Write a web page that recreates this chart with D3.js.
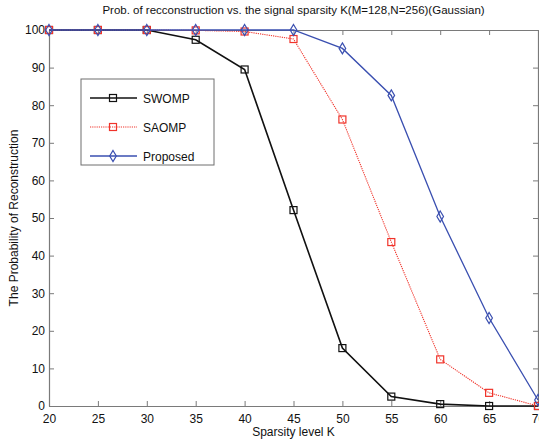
<!DOCTYPE html>
<html>
<head>
<meta charset="utf-8">
<script src="https://cdn.jsdelivr.net/npm/d3@7"></script>
<style>
  html, body { margin: 0; padding: 0; background: #fff; }
  svg { display: block; font-family: "Liberation Sans", Arial, sans-serif; }
</style>
</head>
<body>
<svg id="chart" width="539" height="441"></svg>
<script>
// Sparsity levels (x) and reconstruction probability (%) for each method
const sparsity = [20, 25, 30, 35, 40, 45, 50, 55, 60, 65, 70];
const swomp    = [100, 100, 100, 97.4, 89.5, 52.1, 15.4, 2.5, 0.5, 0, 0];
const saomp    = [100, 100, 100, 99.9, 99.6, 97.6, 76.2, 43.6, 12.4, 3.5, 0];
const proposed = [100, 100, 100, 100, 100, 100, 95.1, 82.6, 50.4, 23.4, 1.6];
const xTicks = [20, 25, 30, 35, 40, 45, 50, 55, 60, 65, 70];
const yTicks = [0, 10, 20, 30, 40, 50, 60, 70, 80, 90, 100];

const series = [
  { name: "SWOMP",    values: swomp,    color: "#111111", width: 1.6, dash: null,  marker: "square" },
  { name: "SAOMP",    values: saomp,    color: "#f0332a", width: 1.1, dash: "1.2,1", marker: "square" },
  { name: "Proposed", values: proposed, color: "#3a4fb0", width: 1.3, dash: null,  marker: "diamond" }
];

const svg = d3.select("#chart");
const plotLeft = 49, plotRight = 538, plotTop = 30, plotBottom = 406;

const x = d3.scaleLinear().domain([20, 70]).range([plotLeft, plotRight]);
const y = d3.scaleLinear().domain([0, 100]).range([plotBottom, plotTop]);

const axisColor = "#7a7a7a";
const tickLen = 5;

// Title
svg.append("text")
  .attr("x", (plotLeft + plotRight) / 2).attr("y", 14)
  .attr("text-anchor", "middle")
  .attr("font-size", 11.5).attr("fill", "#111")
  .text("Prob. of recconstruction vs. the signal sparsity K(M=128,N=256)(Gaussian)");

// Axes with inward ticks (bottom/left labelled, top/right unlabelled)
const gx = svg.append("g").attr("transform", `translate(0,${plotBottom})`)
  .call(d3.axisBottom(x).tickValues(xTicks).tickSizeInner(-tickLen).tickSizeOuter(0).tickPadding(8));
const gxTop = svg.append("g").attr("transform", `translate(0,${plotTop})`)
  .call(d3.axisTop(x).tickValues(xTicks).tickSizeInner(-tickLen).tickSizeOuter(0).tickFormat(""));
const gy = svg.append("g").attr("transform", `translate(${plotLeft},0)`)
  .call(d3.axisLeft(y).tickValues(yTicks).tickSizeInner(-tickLen).tickSizeOuter(0).tickPadding(4));
const gyRight = svg.append("g").attr("transform", `translate(${plotRight},0)`)
  .call(d3.axisRight(y).tickValues(yTicks).tickSizeInner(-tickLen).tickSizeOuter(0).tickFormat(""));

[gx, gxTop, gy, gyRight].forEach(g => {
  g.select(".domain").attr("stroke", axisColor).attr("stroke-width", 1.2);
  g.selectAll(".tick line").attr("stroke", axisColor).attr("stroke-width", 1);
  g.selectAll(".tick text").attr("fill", "#111").attr("font-size", 12)
    .attr("font-family", "'Liberation Sans', Arial, sans-serif");
});

// Axis labels
svg.append("text")
  .attr("x", (plotLeft + plotRight) / 2).attr("y", 436)
  .attr("text-anchor", "middle").attr("font-size", 12).attr("fill", "#111")
  .text("Sparsity level K");
svg.append("text")
  .attr("transform", `translate(18,${(plotTop + plotBottom) / 2}) rotate(-90)`)
  .attr("text-anchor", "middle").attr("font-size", 12).attr("fill", "#111")
  .text("The Probability of Reconstruction");

const line = d3.line().x((d, i) => x(sparsity[i])).y(d => y(d));

function drawMarker(g, kind, cx, cy, color) {
  if (kind === "square") {
    g.append("rect").attr("x", cx - 3.5).attr("y", cy - 3.5).attr("width", 7).attr("height", 7)
      .attr("fill", "none").attr("stroke", color).attr("stroke-width", 1.2);
  } else {
    g.append("path")
      .attr("d", `M${cx},${cy - 5.5}L${cx + 3.3},${cy}L${cx},${cy + 5.5}L${cx - 3.3},${cy}Z`)
      .attr("fill", "none").attr("stroke", color).attr("stroke-width", 1.2);
  }
}

const plot = svg.append("g");
series.forEach(s => {
  plot.append("path").datum(s.values)
    .attr("d", line).attr("fill", "none")
    .attr("stroke", s.color).attr("stroke-width", s.width)
    .attr("stroke-dasharray", s.dash);
  const mg = plot.append("g");
  s.values.forEach((v, i) => drawMarker(mg, s.marker, x(sparsity[i]), y(v), s.color));
});

// Legend
const lg = svg.append("g");
lg.append("rect").attr("x", 81).attr("y", 79).attr("width", 133).attr("height", 86)
  .attr("fill", "#fff").attr("stroke", "#6e6e6e").attr("stroke-width", 1);
series.forEach((s, i) => {
  const ly = 98 + i * 29;
  lg.append("line").attr("x1", 90).attr("x2", 137).attr("y1", ly).attr("y2", ly)
    .attr("stroke", s.color).attr("stroke-width", s.width).attr("stroke-dasharray", s.dash);
  drawMarker(lg, s.marker, 113, ly, s.color);
  lg.append("text").attr("x", 143).attr("y", ly + 4.5)
    .attr("font-size", 12).attr("fill", "#111").text(s.name);
});
</script>
</body>
</html>
